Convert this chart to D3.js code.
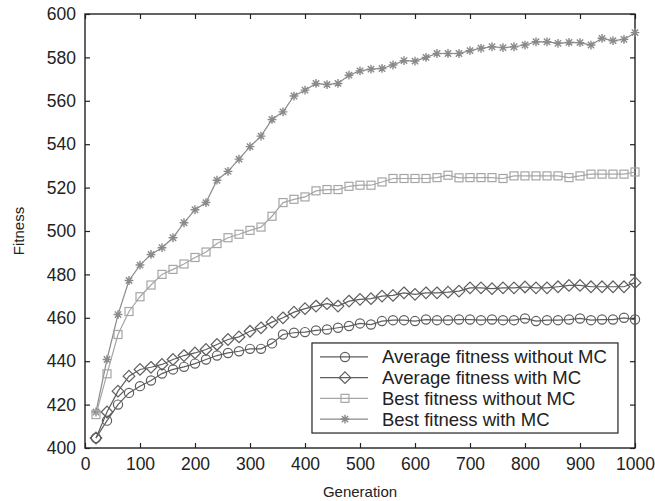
<!DOCTYPE html>
<html>
<head>
<meta charset="utf-8">
<script src="https://cdn.jsdelivr.net/npm/d3@7"></script>
<style>
  body { margin: 0; background: #fff; }
  text { font-family: "Liberation Sans", Arial, sans-serif; }
</style>
</head>
<body>
<div id="chart"></div>
<script>
// generations sampled every 20 steps
const generations = d3.range(20, 1001, 20);

const avgNoMC = [404.6, 412.6, 420.0, 425.4, 428.5, 431.1, 434.3, 436.2, 437.4, 438.9,
  440.8, 442.6, 443.8, 444.6, 445.7, 445.7, 448.2, 452.3, 453.1, 453.4,
  454.2, 454.6, 455.4, 456.2, 457.4, 456.9, 458.5, 458.9, 458.9, 458.5,
  459.2, 458.9, 458.9, 459.2, 459.2, 458.9, 459.2, 458.9, 458.9, 459.7,
  458.5, 458.9, 458.9, 459.2, 459.7, 458.9, 459.2, 459.2, 460.0, 459.2];

const avgMC = [404.6, 416.6, 426.2, 433.1, 436.2, 437.2, 438.5, 440.8, 442.6, 443.8,
  445.4, 447.7, 450.0, 451.2, 453.8, 455.4, 458.0, 460.0, 462.6, 464.2,
  465.4, 466.5, 465.4, 467.7, 468.5, 468.8, 470.0, 470.3, 471.5, 470.8,
  471.5, 471.5, 471.8, 472.3, 473.8, 473.8, 473.4, 473.8, 473.8, 474.2,
  473.8, 473.8, 474.3, 474.9, 474.9, 474.3, 474.3, 474.3, 474.3, 476.2];

const bestNoMC = [415.4, 434.2, 452.3, 462.9, 469.7, 475.1, 480.0, 482.3, 484.8, 487.8,
  490.3, 494.2, 496.9, 498.5, 500.3, 501.8, 506.8, 513.1, 514.6, 515.7,
  518.5, 519.1, 519.1, 520.6, 521.1, 521.1, 522.6, 524.2, 524.2, 524.2,
  524.2, 524.6, 525.7, 524.5, 524.6, 524.6, 524.6, 524.2, 525.4, 525.4,
  525.4, 525.4, 525.4, 524.6, 525.4, 526.2, 526.2, 526.2, 526.2, 527.2];

const bestMC = [416.6, 440.8, 461.5, 477.2, 484.3, 489.2, 492.3, 496.9, 503.8, 509.8,
  513.1, 523.4, 527.5, 533.1, 538.9, 543.7, 551.4, 554.9, 562.2, 564.9,
  568.0, 567.5, 568.0, 571.8, 573.8, 574.6, 574.9, 576.5, 578.5, 578.3,
  580.0, 581.8, 581.8, 581.8, 583.1, 584.2, 584.9, 584.5, 584.9, 585.7,
  587.2, 587.2, 586.5, 586.9, 586.8, 585.7, 588.8, 587.7, 588.3, 591.4];

const seriesNames = ["Average fitness without MC", "Average fitness with MC",
  "Best fitness without MC", "Best fitness with MC"];
const seriesColors = ["#5e5e5e", "#5e5e5e", "#a6a6a6", "#8a8a8a"];
const seriesMarkers = ["circle", "diamond", "square", "star"];
const seriesValues = [avgNoMC, avgMC, bestNoMC, bestMC];

const xTicks = d3.range(0, 1001, 100);
const yTicks = d3.range(400, 601, 20);

const W = 655, H = 501;
const margin = { top: 14, right: 20, bottom: 53, left: 85 };
const width = W - margin.left - margin.right;
const height = H - margin.top - margin.bottom;

const svg = d3.select("#chart").append("svg")
  .attr("width", W).attr("height", H);
const g = svg.append("g")
  .attr("transform", `translate(${margin.left},${margin.top})`);

const x = d3.scaleLinear().domain([0, 1000]).range([0, width]);
const y = d3.scaleLinear().domain([400, 600]).range([height, 0]);

// axes with inward ticks on all four sides
function styleAxis(sel) {
  sel.select(".domain").remove();
  sel.selectAll(".tick line").attr("stroke", "#222").attr("stroke-width", 1.2);
  sel.selectAll(".tick text").attr("fill", "#222").attr("font-size", 17.5);
}
g.append("g").attr("transform", `translate(0,${height})`)
  .call(d3.axisBottom(x).tickValues(xTicks).tickSize(-5).tickPadding(10).tickFormat(d3.format("d")))
  .call(styleAxis);
g.append("g")
  .call(d3.axisLeft(y).tickValues(yTicks).tickSize(-5).tickPadding(9))
  .call(styleAxis);
g.append("g")
  .call(d3.axisTop(x).tickValues(xTicks).tickSize(-5).tickFormat(""))
  .call(styleAxis);
g.append("g").attr("transform", `translate(${width},0)`)
  .call(d3.axisRight(y).tickValues(yTicks).tickSize(-5).tickFormat(""))
  .call(styleAxis);

g.append("rect")
  .attr("width", width).attr("height", height)
  .attr("fill", "none").attr("stroke", "#222").attr("stroke-width", 1.4);

function drawMarker(sel, type, color) {
  if (type === "circle") {
    sel.append("circle").attr("r", 4.6)
      .attr("fill", "none").attr("stroke", color).attr("stroke-width", 1.2);
  } else if (type === "diamond") {
    sel.append("path").attr("d", "M0,-5.8L5.8,0L0,5.8L-5.8,0Z")
      .attr("fill", "none").attr("stroke", color).attr("stroke-width", 1.2);
  } else if (type === "square") {
    sel.append("rect").attr("x", -4).attr("y", -4).attr("width", 8).attr("height", 8)
      .attr("fill", "none").attr("stroke", color).attr("stroke-width", 1.2);
  } else {
    const r = 4.4, d = r * 0.72;
    sel.append("path")
      .attr("d", `M${-r},0L${r},0M0,${-r}L0,${r}M${-d},${-d}L${d},${d}M${-d},${d}L${d},${-d}`)
      .attr("stroke", color).attr("stroke-width", 1.4).attr("fill", "none");
  }
}

const line = d3.line().x(d => x(d[0])).y(d => y(d[1]));

// draw back to front: best with MC, best without, avg with, avg without
[3, 2, 1, 0].forEach(i => {
  const pts = generations.map((gen, k) => [gen, seriesValues[i][k]]);
  g.append("path").datum(pts)
    .attr("d", line)
    .attr("fill", "none")
    .attr("stroke", seriesColors[i])
    .attr("stroke-width", 1.2);
  g.append("g").selectAll("g").data(pts).join("g")
    .attr("transform", d => `translate(${x(d[0])},${y(d[1])})`)
    .each(function () { drawMarker(d3.select(this), seriesMarkers[i], seriesColors[i]); });
});

// legend box, placed in data units of the plot
const legend = g.append("g").attr("transform", `translate(${x(412.7)},${y(448.4)})`);
legend.append("rect")
  .attr("width", x(969) - x(412.7)).attr("height", y(406.9) - y(448.4))
  .attr("fill", "#fff").attr("stroke", "#222").attr("stroke-width", 1.2);
seriesNames.forEach((name, i) => {
  const row = legend.append("g").attr("transform", `translate(0,${14 + i * 20.7})`);
  row.append("line").attr("x1", 8).attr("x2", 56)
    .attr("stroke", seriesColors[i]).attr("stroke-width", 1.2);
  drawMarker(row.append("g").attr("transform", "translate(33,0)"), seriesMarkers[i], seriesColors[i]);
  row.append("text").attr("x", 70).attr("dy", "0.35em")
    .attr("font-size", 18.5).attr("fill", "#222").text(name);
});

// axis titles
svg.append("text")
  .attr("x", margin.left + width / 2).attr("y", 497)
  .attr("text-anchor", "middle").attr("font-size", 15).attr("fill", "#222")
  .text("Generation");
svg.append("text")
  .attr("transform", `translate(24,${margin.top + height / 2}) rotate(-90)`)
  .attr("text-anchor", "middle").attr("font-size", 15).attr("fill", "#222")
  .text("Fitness");
</script>
</body>
</html>
